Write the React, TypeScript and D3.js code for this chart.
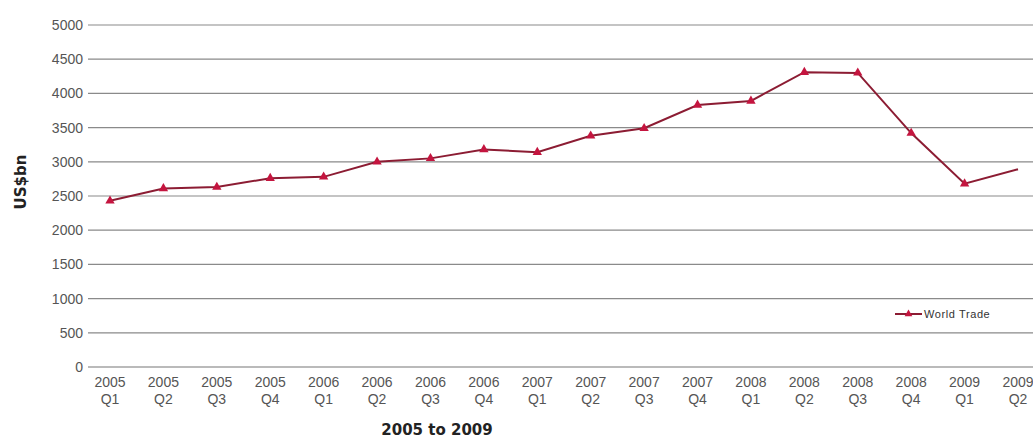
import React, { useEffect, useRef } from 'react';
import * as d3 from 'd3';

const years = ['2005', '2005', '2005', '2005', '2006', '2006', '2006', '2006', '2007', '2007', '2007', '2007', '2008', '2008', '2008', '2008', '2009', '2009'];
const quarters = ['Q1', 'Q2', 'Q3', 'Q4', 'Q1', 'Q2', 'Q3', 'Q4', 'Q1', 'Q2', 'Q3', 'Q4', 'Q1', 'Q2', 'Q3', 'Q4', 'Q1', 'Q2'];
const worldTrade = [2430, 2610, 2630, 2760, 2780, 3000, 3050, 3180, 3140, 3380, 3490, 3830, 3890, 4310, 4300, 3420, 2680, 2890];
const yTicks = [0, 500, 1000, 1500, 2000, 2500, 3000, 3500, 4000, 4500, 5000];

export default function App() {
  const chartRef = useRef<SVGSVGElement>(null);

  useEffect(() => {
    const width = 1033;
    const height = 439;
    const svg = d3.select(chartRef.current);
    svg.selectAll('*').remove();
    svg.attr('width', width).attr('height', height);

    const keys = years.map((y, i) => `${y} ${quarters[i]}`);
    const x = d3.scalePoint<string>().domain(keys).range([110, 1018]);
    const y = d3.scaleLinear().domain([0, 5000]).range([367, 25]);
    const font = 'Liberation Sans, Arial, sans-serif';

    // gridlines
    svg.append('g')
      .selectAll('line')
      .data(yTicks)
      .enter()
      .append('line')
      .attr('x1', 88)
      .attr('x2', width)
      .attr('y1', d => y(d))
      .attr('y2', d => y(d))
      .attr('stroke', d => (d === 0 ? '#777' : '#8a8a8a'))
      .attr('stroke-width', 1.2);

    // y tick labels
    svg.append('g')
      .selectAll('text')
      .data(yTicks)
      .enter()
      .append('text')
      .attr('x', 83)
      .attr('y', d => y(d) + 5)
      .attr('text-anchor', 'end')
      .attr('font-family', font)
      .attr('font-size', 14)
      .attr('fill', '#555')
      .text(d => d);

    // x tick labels
    const xl = svg.append('g')
      .selectAll('text')
      .data(keys)
      .enter()
      .append('text')
      .attr('text-anchor', 'middle')
      .attr('font-family', font)
      .attr('font-size', 14)
      .attr('fill', '#555');
    xl.append('tspan').attr('x', d => x(d)!).attr('y', 387).text((d, i) => years[i]);
    xl.append('tspan').attr('x', d => x(d)!).attr('y', 404).text((d, i) => quarters[i]);

    // axis titles
    svg.append('text')
      .attr('transform', 'translate(26,182) rotate(-90)')
      .attr('text-anchor', 'middle')
      .attr('font-family', 'DejaVu Sans, sans-serif')
      .attr('font-weight', 'bold')
      .attr('font-size', 15)
      .attr('fill', '#222')
      .text('US$bn');

    svg.append('text')
      .attr('x', 437)
      .attr('y', 435)
      .attr('text-anchor', 'middle')
      .attr('font-family', 'DejaVu Sans, sans-serif')
      .attr('font-weight', 'bold')
      .attr('font-size', 15)
      .attr('fill', '#222')
      .text('2005 to 2009');

    // line
    const line = d3.line<number>()
      .x((d, i) => x(keys[i])!)
      .y(d => y(d));

    svg.append('path')
      .datum(worldTrade)
      .attr('d', line)
      .attr('fill', 'none')
      .attr('stroke', '#8c1c33')
      .attr('stroke-width', 2);

    const tri = d3.symbol().type(d3.symbolTriangle).size(38);

    // markers (last point sits at the cropped edge, no marker visible)
    svg.append('g')
      .selectAll('path')
      .data(worldTrade.slice(0, -1))
      .enter()
      .append('path')
      .attr('d', tri)
      .attr('transform', (d, i) => `translate(${x(keys[i])},${y(d)})`)
      .attr('fill', '#c4153f');

    // legend
    const lg = svg.append('g').attr('transform', 'translate(895,314)');
    lg.append('line')
      .attr('x1', 0)
      .attr('x2', 27)
      .attr('stroke', '#8c1c33')
      .attr('stroke-width', 2);
    lg.append('path')
      .attr('d', d3.symbol().type(d3.symbolTriangle).size(26))
      .attr('transform', 'translate(13.5,0)')
      .attr('fill', '#c4153f');
    lg.append('text')
      .attr('x', 29)
      .attr('y', 4)
      .attr('font-family', font)
      .attr('font-size', 11)
      .attr('letter-spacing', 0.6)
      .attr('fill', '#333')
      .text('World Trade');
  }, []);

  return <svg ref={chartRef} style={{ position: 'absolute', left: 0, top: 0 }} />;
}
